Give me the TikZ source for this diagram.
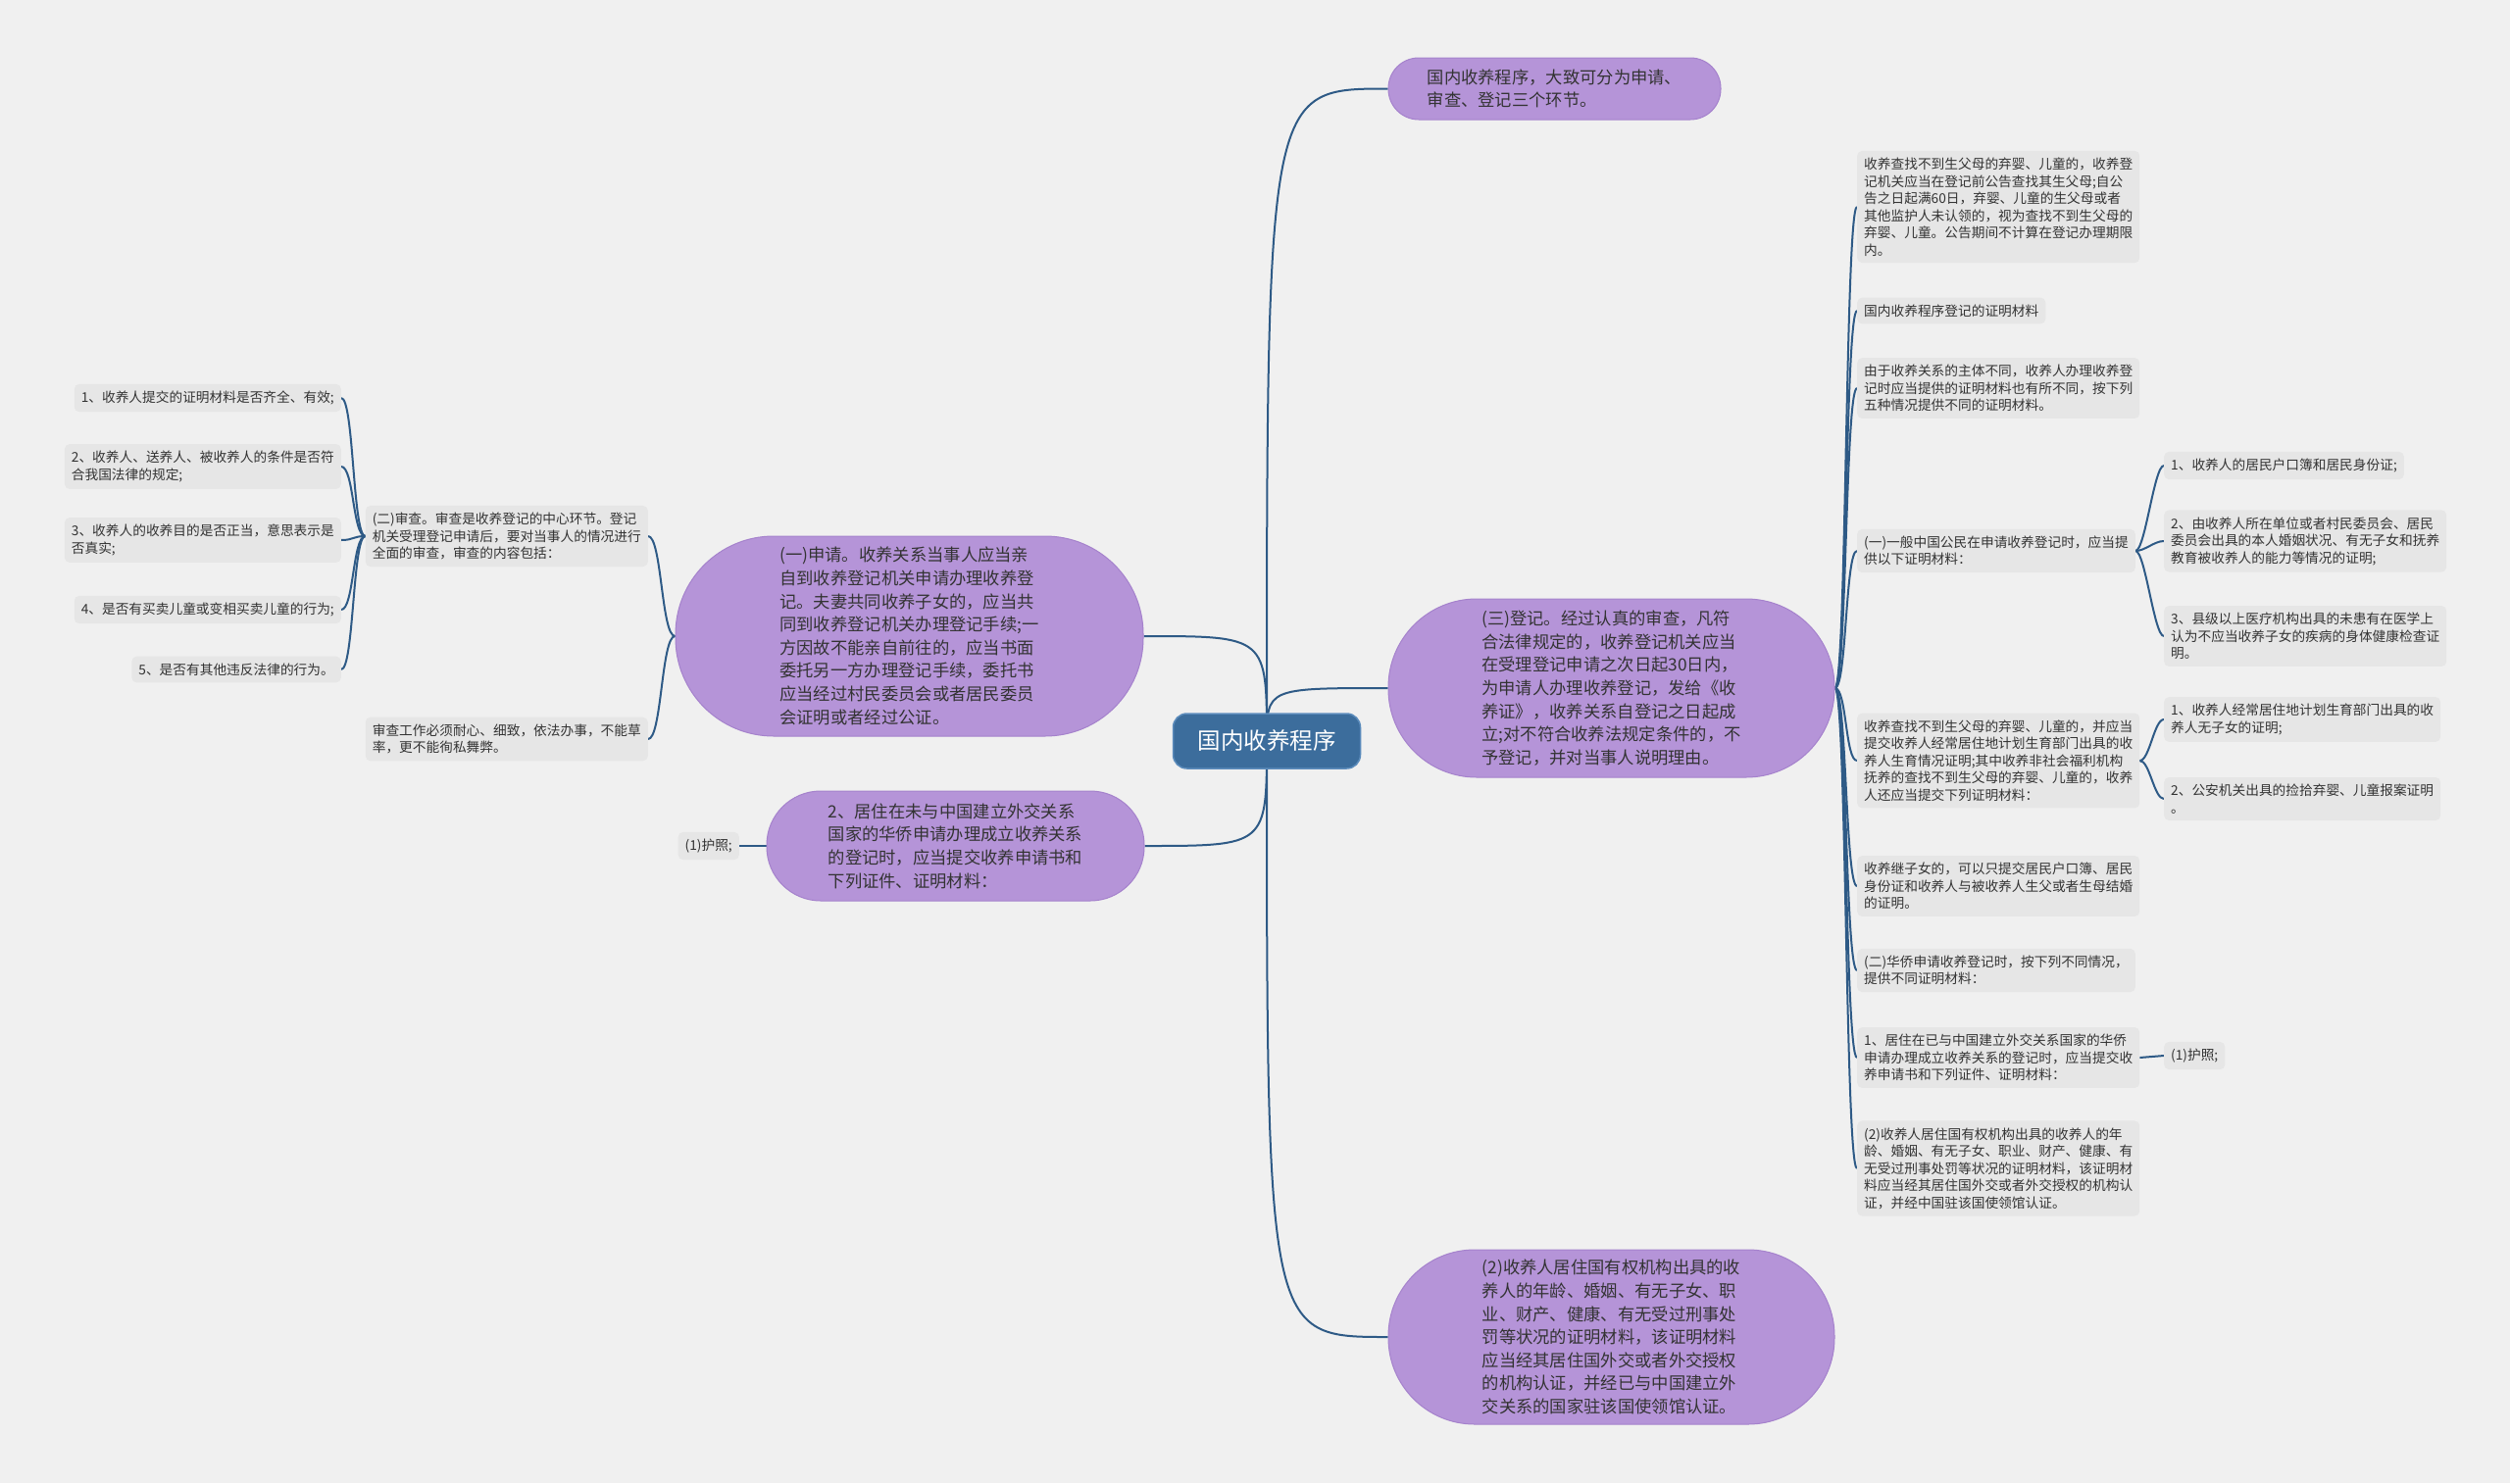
\documentclass[tikz,border=0pt]{standalone}
\usepackage{fontspec}
\newfontfamily\cjk{Noto Sans CJK SC}
\usetikzlibrary{backgrounds}
\definecolor{bgc}{HTML}{F0F0F0}
\definecolor{greyfill}{HTML}{E6E6E6}
\definecolor{purp}{HTML}{B594D8}
\definecolor{purpline}{HTML}{A582CC}
\definecolor{linec}{HTML}{2E5A86}
\definecolor{centralc}{HTML}{3C6D9C}
\definecolor{centralb}{HTML}{5C8CBC}
\definecolor{txt}{HTML}{333333}
\tikzset{
  gbox/.style={fill=greyfill, rounded corners=5pt, align=left, inner xsep=7pt, inner ysep=7pt,
    text=txt, font={\cjk\fontsize{13.7pt}{17.5pt}\selectfont}},
  pbox/.style={fill=purp, draw=purpline, line width=1pt, align=left, inner sep=0pt,
    text=txt, font={\cjk\fontsize{17.3pt}{23.6pt}\selectfont}},
  cbox/.style={fill=centralc, draw=centralb, line width=1.5pt, rounded corners=14pt, text=white,
    minimum width=191pt, minimum height=56pt, font={\cjk\fontsize{23.5pt}{28pt}\selectfont}},
  conn/.style={draw=linec, line width=2pt}
}
\begin{document}
\begin{tikzpicture}[x=1pt,y=-1pt]
\begin{pgfonlayer}{background}
  \fill[bgc] (0,0) rectangle (2560,1513);
\end{pgfonlayer}
\useasboundingbox (0,0) rectangle (2560,1513);

% central
\node[cbox] (c) at (1292,756) {国内收养程序};

% purple main branches
\node[pbox, minimum width=339pt, minimum height=63pt, rounded corners=31pt] (t) at (1585.5,90.5)
  {国内收养程序，大致可分为申请、\\审查、登记三个环节。};
\node[pbox, minimum width=477pt, minimum height=204pt, rounded corners=100pt] (a) at (927.5,649)
  {(一)申请。收养关系当事人应当亲\\自到收养登记机关申请办理收养登\\记。夫妻共同收养子女的，应当共\\同到收养登记机关办理登记手续;一\\方因故不能亲自前往的，应当书面\\委托另一方办理登记手续，委托书\\应当经过村民委员会或者居民委员\\会证明或者经过公证。};
\node[pbox, minimum width=385pt, minimum height=112pt, rounded corners=55pt] (b) at (974.5,863)
  {2、居住在未与中国建立外交关系\\国家的华侨申请办理成立收养关系\\的登记时，应当提交收养申请书和\\下列证件、证明材料：};
\node[pbox, minimum width=455pt, minimum height=182pt, rounded corners=90pt] (d) at (1643.5,702)
  {(三)登记。经过认真的审查，凡符\\合法律规定的，收养登记机关应当\\在受理登记申请之次日起30日内，\\为申请人办理收养登记，发给《收\\养证》，收养关系自登记之日起成\\立;对不符合收养法规定条件的，不\\予登记，并对当事人说明理由。};
\node[pbox, minimum width=455pt, minimum height=178pt, rounded corners=88pt] (e) at (1643.5,1364)
  {(2)收养人居住国有权机构出具的收\\养人的年龄、婚姻、有无子女、职\\业、财产、健康、有无受过刑事处\\罚等状况的证明材料，该证明材料\\应当经其居住国外交或者外交授权\\的机构认证，并经已与中国建立外\\交关系的国家驻该国使领馆认证。};

% left grey nodes
\node[gbox, anchor=east] (n7) at (661,547)
  {(二)审查。审查是收养登记的中心环节。登记\\机关受理登记申请后，要对当事人的情况进行\\全面的审查，审查的内容包括：};
\node[gbox, anchor=east] (n13) at (661,754)
  {审查工作必须耐心、细致，依法办事，不能草\\率，更不能徇私舞弊。};
\node[gbox, anchor=east] (i1) at (348,406) {1、收养人提交的证明材料是否齐全、有效;};
\node[gbox, anchor=east] (i2) at (348,476) {2、收养人、送养人、被收养人的条件是否符\\合我国法律的规定;};
\node[gbox, anchor=east] (i3) at (348,551) {3、收养人的收养目的是否正当，意思表示是\\否真实;};
\node[gbox, anchor=east] (i4) at (348,622) {4、是否有买卖儿童或变相买卖儿童的行为;};
\node[gbox, anchor=east] (i5) at (348,683) {5、是否有其他违反法律的行为。};
\node[gbox, anchor=east] (p1) at (754,863) {(1)护照;};

% right grey nodes
\node[gbox, anchor=west] (r1) at (1894,211)
  {收养查找不到生父母的弃婴、儿童的，收养登\\记机关应当在登记前公告查找其生父母;自公\\告之日起满60日，弃婴、儿童的生父母或者\\其他监护人未认领的，视为查找不到生父母的\\弃婴、儿童。公告期间不计算在登记办理期限\\内。};
\node[gbox, anchor=west] (r2) at (1894,317) {国内收养程序登记的证明材料};
\node[gbox, anchor=west] (r3) at (1894,396)
  {由于收养关系的主体不同，收养人办理收养登\\记时应当提供的证明材料也有所不同，按下列\\五种情况提供不同的证明材料。};
\node[gbox, anchor=west] (r4) at (1894,562)
  {(一)一般中国公民在申请收养登记时，应当提\\供以下证明材料：};
\node[gbox, anchor=west] (r4a) at (2207,475) {1、收养人的居民户口簿和居民身份证;};
\node[gbox, anchor=west] (r4b) at (2207,552)
  {2、由收养人所在单位或者村民委员会、居民\\委员会出具的本人婚姻状况、有无子女和抚养\\教育被收养人的能力等情况的证明;};
\node[gbox, anchor=west] (r4c) at (2207,649)
  {3、县级以上医疗机构出具的未患有在医学上\\认为不应当收养子女的疾病的身体健康检查证\\明。};
\node[gbox, anchor=west] (r5) at (1894,776)
  {收养查找不到生父母的弃婴、儿童的，并应当\\提交收养人经常居住地计划生育部门出具的收\\养人生育情况证明;其中收养非社会福利机构\\抚养的查找不到生父母的弃婴、儿童的，收养\\人还应当提交下列证明材料：};
\node[gbox, anchor=west] (r5a) at (2207,734)
  {1、收养人经常居住地计划生育部门出具的收\\养人无子女的证明;};
\node[gbox, anchor=west] (r5b) at (2207,815)
  {2、公安机关出具的捡拾弃婴、儿童报案证明\\。};
\node[gbox, anchor=west] (r6) at (1894,904)
  {收养继子女的，可以只提交居民户口簿、居民\\身份证和收养人与被收养人生父或者生母结婚\\的证明。};
\node[gbox, anchor=west] (r7) at (1894,990)
  {(二)华侨申请收养登记时，按下列不同情况，\\提供不同证明材料：};
\node[gbox, anchor=west] (r8) at (1894,1079)
  {1、居住在已与中国建立外交关系国家的华侨\\申请办理成立收养关系的登记时，应当提交收\\养申请书和下列证件、证明材料：};
\node[gbox, anchor=west] (r8a) at (2207,1077) {(1)护照;};
\node[gbox, anchor=west] (r9) at (1894,1192)
  {(2)收养人居住国有权机构出具的收养人的年\\龄、婚姻、有无子女、职业、财产、健康、有\\无受过刑事处罚等状况的证明材料，该证明材\\料应当经其居住国外交或者外交授权的机构认\\证，并经中国驻该国使领馆认证。};

\begin{pgfonlayer}{background}
  % from central
  \foreach \n in {t,d,e}
    \draw[conn] (c.center) .. controls (c.center |- \n.west) .. (\n.west);
  \foreach \n in {a,b}
    \draw[conn] (c.center) .. controls (c.center |- \n.east) .. (\n.east);
  % left brackets
  \foreach \n in {n7,n13}
    \draw[conn] (a.west) .. controls +(-14,0) and +(14,0) .. (\n.east);
  \foreach \n in {i1,i2,i3,i4,i5}
    \draw[conn] (n7.west) .. controls +(-13,0) and +(13,0) .. (\n.east);
  \draw[conn] (b.west) -- (p1.east);
  % right fan
  \foreach \n in {r1,r2,r3,r4,r5,r6,r7,r8,r9}
    \draw[conn] (d.east) .. controls +(12,0) and +(-12,0) .. (\n.west);
  \foreach \n in {r4a,r4b,r4c}
    \draw[conn] (r4.east) .. controls +(10,0) and +(-10,0) .. (\n.west);
  \foreach \n in {r5a,r5b}
    \draw[conn] (r5.east) .. controls +(10,0) and +(-10,0) .. (\n.west);
  \draw[conn] (r8.east) -- (r8a.west);
\end{pgfonlayer}
\end{tikzpicture}
\end{document}
